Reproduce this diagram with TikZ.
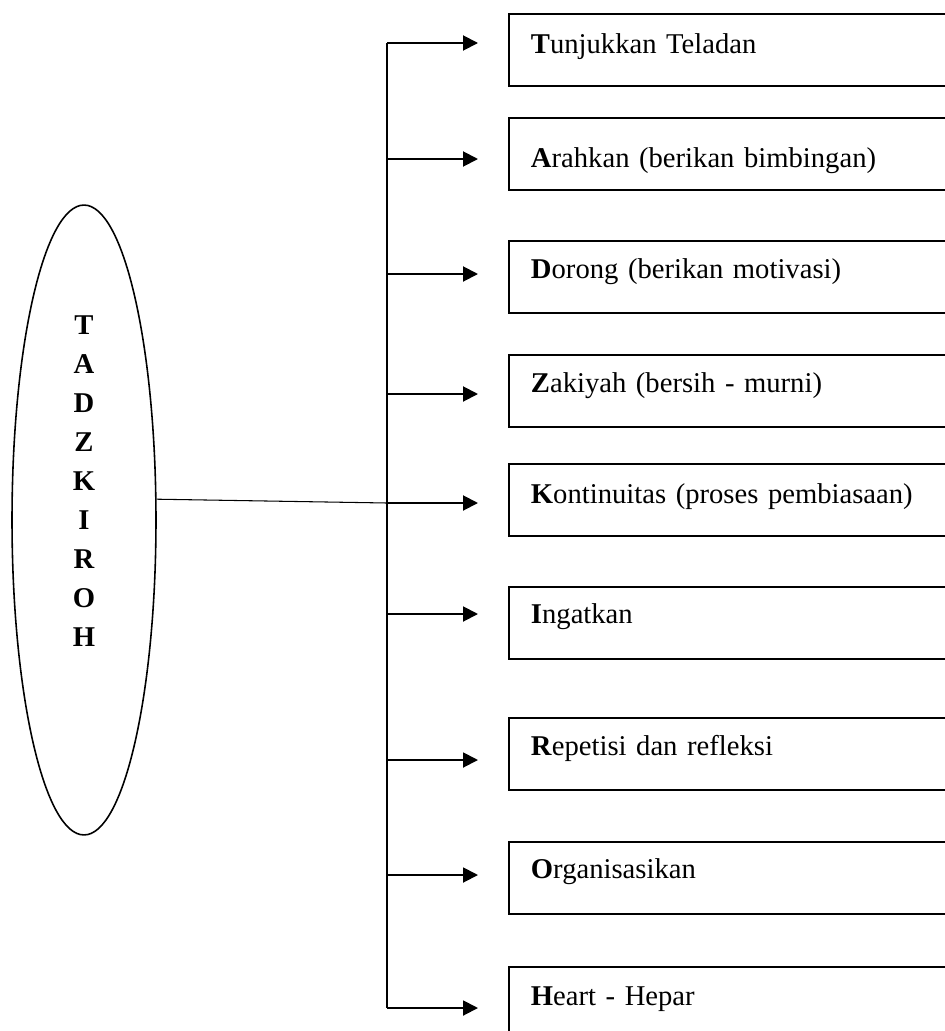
\documentclass[tikz,border=0pt]{standalone}
\usepackage{fontspec}
\setmainfont{Liberation Serif}
\usetikzlibrary{
    positioning,
    arrows.meta,
    shapes.geometric
}

\tikzset{
    itembox/.style={draw, line width=1.1pt, anchor=north west,
        inner xsep=0.44cm, inner ysep=0pt, text width=9cm, align=left,
        font=\fontsize{16.3}{19}\selectfont},
    feed/.style={line width=1.1pt, -{Triangle[length=0.3cm, width=0.3cm]},
        shorten >=0.6cm}
}

\begin{document}
\begin{tikzpicture}[x=0.02cm, y=-0.02cm]
            \useasboundingbox (0,0) rectangle (945,1031);
            \clip (0,0) rectangle (945,1031);
            
            \node[draw, ellipse, line width=0.9pt, minimum width=2.88cm,
                minimum height=12.6cm, inner sep=0pt] (ell) at (84,520) {};
            \node[font=\fontsize{16.3}{22.2}\selectfont\bfseries, align=center,
                inner sep=0pt] (word) at (84,481) {T\\A\\D\\Z\\K\\I\\R\\O\\H};
            
            % box top, arrow y, text offset, label
            \foreach \i/\ty/\ay/\to/\txt in {
                1/13/43/30/{\textbf{T}unjukkan Teladan},
                2/117/159/40/{\textbf{A}rahkan (berikan bimbingan)},
                3/240/274/28/{\textbf{D}orong (berikan motivasi)},
                4/354/394/28/{\textbf{Z}akiyah (bersih - murni)},
                5/463/503/30/{\textbf{K}ontinuitas (proses pembiasaan)},
                6/586/614/27/{\textbf{I}ngatkan},
                7/717/760/28/{\textbf{R}epetisi dan refleksi},
                8/841/875/27/{\textbf{O}rganisasikan},
                9/966/1008/29/{\textbf{H}eart - Hepar}} {
                \pgfmathsetlengthmacro\th{(\to+9.5)*0.02cm}
                \pgfmathsetlengthmacro\td{72*0.02cm-\th}
                \node[itembox, text height=\th, text depth=\td] (b\i) at (508,\ty) {\txt};
                \coordinate (s\i) at (387,\ay);
                \draw[feed] (s\i) -- (s\i -| b\i.west);
            }
            
            \draw[line width=1.1pt] (s1) -- (s9);
            \draw[line width=0.6pt] (ell.16) -- (s5);
        \end{tikzpicture}
\end{document}
